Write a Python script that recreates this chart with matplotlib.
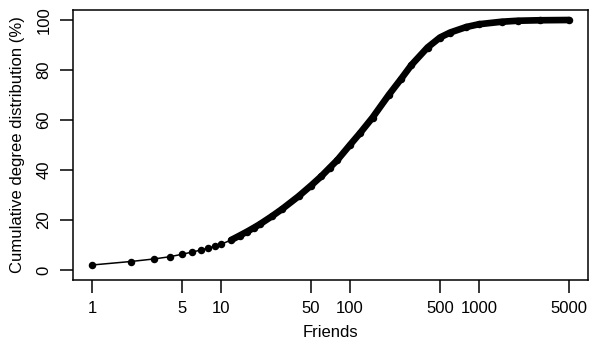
import numpy as np
from matplotlib import pyplot as plt

plt.rcParams['font.family'] = ['Liberation Sans', 'DejaVu Sans']

# values (friends, cumulative %)
friends = [1, 2, 3, 4, 5, 6, 7, 8, 9, 10,
           12, 14, 16, 18, 20, 25, 30, 40, 50, 60, 70, 80,
           100, 120, 150, 200, 250, 300, 400, 500, 600, 800,
           1000, 1500, 2000, 3000, 5000]
cum_pct = [2.0, 3.4, 4.4, 5.3, 6.3, 7.2, 8.0, 8.8, 9.5, 10.3,
           12.0, 13.8, 15.4, 16.9, 18.3, 21.6, 24.5, 29.5, 33.8, 37.5, 41.0, 44.0,
           50.0, 54.8, 61.0, 70.0, 76.5, 82.0, 89.0, 93.0, 95.0, 97.2,
           98.3, 99.3, 99.7, 99.9, 100.0]
xticks = [1, 5, 10, 50, 100, 500, 1000, 5000]
yticks = [0, 20, 40, 60, 80, 100]

fig = plt.figure(figsize=(6.05, 3.48), dpi=100)
ax = fig.add_axes([73 / 605, 1 - 280 / 348, 515 / 605, 270 / 348])

x = np.array(friends)
y = np.array(cum_pct)
ax.plot(x, y, color='black', lw=1.1, marker='o', ms=5.4, mew=0)
# points overlap into a solid band from ~10 friends on
dense = x >= 12
ax.plot(x[dense], y[dense], color='black', lw=4.8,
        solid_capstyle='round', solid_joinstyle='round')

ax.set_xscale('log')
ax.set_xlim(10 ** -0.148, 10 ** 3.847)
ax.set_ylim(-4, 104)
ax.set_xticks(xticks)
ax.set_xticklabels([str(t) for t in xticks])
ax.minorticks_off()
ax.set_yticks(yticks)
ax.set_yticklabels([str(t) for t in yticks], rotation=90, va='center')

ax.tick_params(length=9.4, width=1.1, pad=6, labelsize=12)
for s in ax.spines.values():
    s.set_linewidth(1.1)

ax.set_xlabel('Friends', fontsize=12, labelpad=6)
ax.set_ylabel('Cumulative degree distribution (%)', fontsize=12, labelpad=8)

fig.savefig('out.png', dpi=100)
